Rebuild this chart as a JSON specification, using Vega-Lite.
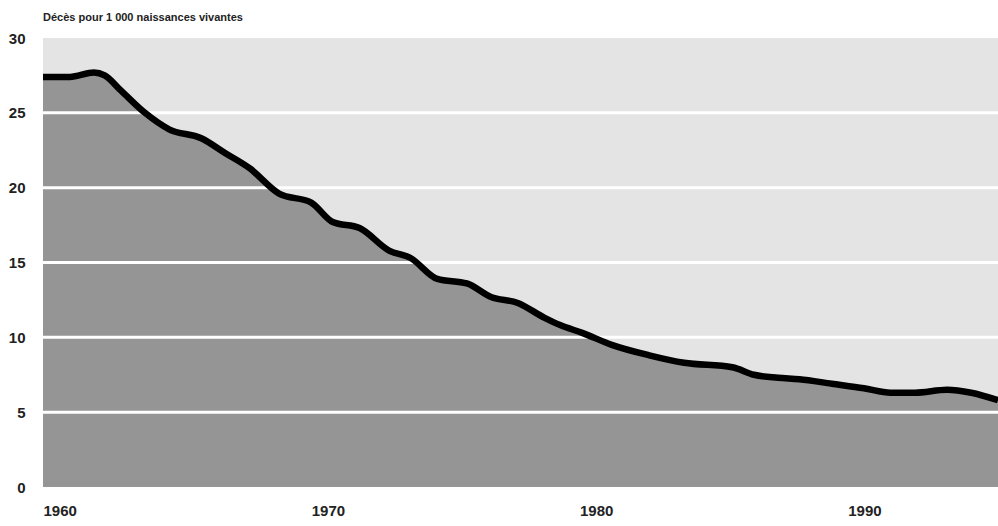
{
  "$schema": "https://vega.github.io/schema/vega-lite/v6.json",
  "width": 955,
  "height": 449,
  "autosize": "none",
  "padding": {"left": 43, "top": 38, "right": 0, "bottom": 39},
  "background": "white",
  "config": {
    "view": {"fill": "#e4e4e4", "stroke": null},
    "font": "Liberation Sans, sans-serif"
  },
  "title": {
    "text": "Décès pour 1 000 naissances vivantes",
    "anchor": "start",
    "frame": "group",
    "offset": 8,
    "fontSize": 11,
    "fontWeight": "bold",
    "font": "Liberation Sans, sans-serif",
    "color": "#222222"
  },
  "datasets": {
    "rate": [
      {"year": 1960.0, "deaths": 27.4},
      {"year": 1961.0, "deaths": 27.4},
      {"year": 1961.9, "deaths": 27.7},
      {"year": 1962.3, "deaths": 27.5},
      {"year": 1962.9, "deaths": 26.5},
      {"year": 1963.8, "deaths": 25.0},
      {"year": 1964.7, "deaths": 23.9},
      {"year": 1965.9, "deaths": 23.3},
      {"year": 1966.8, "deaths": 22.3},
      {"year": 1967.7, "deaths": 21.3},
      {"year": 1968.8, "deaths": 19.6},
      {"year": 1970.0, "deaths": 19.0},
      {"year": 1970.8, "deaths": 17.7},
      {"year": 1971.8, "deaths": 17.3},
      {"year": 1972.9, "deaths": 15.8},
      {"year": 1973.7, "deaths": 15.3},
      {"year": 1974.7, "deaths": 13.9},
      {"year": 1975.8, "deaths": 13.6},
      {"year": 1976.7, "deaths": 12.7},
      {"year": 1977.7, "deaths": 12.3},
      {"year": 1978.7, "deaths": 11.3},
      {"year": 1979.3, "deaths": 10.8},
      {"year": 1980.1, "deaths": 10.3},
      {"year": 1981.2, "deaths": 9.5},
      {"year": 1982.6, "deaths": 8.8},
      {"year": 1983.9, "deaths": 8.3},
      {"year": 1985.7, "deaths": 8.0},
      {"year": 1986.5, "deaths": 7.5},
      {"year": 1987.4, "deaths": 7.3},
      {"year": 1988.2, "deaths": 7.2},
      {"year": 1989.4, "deaths": 6.9},
      {"year": 1990.6, "deaths": 6.6},
      {"year": 1991.6, "deaths": 6.3},
      {"year": 1992.5, "deaths": 6.3},
      {"year": 1993.7, "deaths": 6.5},
      {"year": 1994.6, "deaths": 6.3},
      {"year": 1995.6, "deaths": 5.8}
    ],
    "grid": [{"v": 5}, {"v": 10}, {"v": 15}, {"v": 20}, {"v": 25}]
  },
  "layer": [
    {
      "data": {"name": "rate"},
      "mark": {"type": "area", "interpolate": "monotone", "color": "#959595"},
      "encoding": {
        "x": {
          "field": "year", "type": "quantitative",
          "scale": {"domain": [1960, 1995.6], "nice": false, "zero": false},
          "axis": {
            "values": [1960, 1970, 1980, 1990], "format": "d",
            "labelAlign": "left", "domain": false, "ticks": false, "grid": false,
            "title": null, "labelPadding": 16, "labelFontSize": 15,
            "labelFontWeight": "bold", "labelColor": "#222222", "labelBaseline": "top"
          }
        },
        "y": {
          "field": "deaths", "type": "quantitative",
          "scale": {"domain": [0, 30], "nice": false},
          "axis": {
            "values": [0, 5, 10, 15, 20, 25, 30],
            "domain": false, "ticks": false, "grid": false, "title": null,
            "labelPadding": 18, "labelFontSize": 15, "labelFontWeight": "bold",
            "labelColor": "#222222", "labelBaseline": "middle"
          }
        }
      }
    },
    {
      "data": {"name": "grid"},
      "mark": {"type": "rule", "color": "white", "strokeWidth": 3},
      "encoding": {"y": {"field": "v", "type": "quantitative"}}
    },
    {
      "data": {"name": "rate"},
      "mark": {"type": "line", "interpolate": "monotone", "color": "black", "strokeWidth": 6.5},
      "encoding": {
        "x": {"field": "year", "type": "quantitative"},
        "y": {"field": "deaths", "type": "quantitative"}
      }
    }
  ]
}
